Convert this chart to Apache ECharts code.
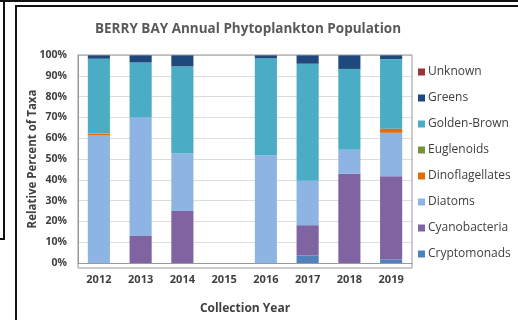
<!DOCTYPE html>
<html>
<head>
<meta charset="utf-8">
<script src="https://cdn.jsdelivr.net/npm/echarts@6/dist/echarts.min.js"></script>
<style>
  html, body { margin: 0; padding: 0; background: #fff; }
  #wrap { position: relative; width: 518px; height: 320px; overflow: hidden; }
  #chart { position: absolute; left: 0; top: 0; width: 518px; height: 320px; }
  .ln { position: absolute; background: #111; }
</style>
</head>
<body>
<div id="wrap">
  <div id="chart"></div>
  <div class="ln" style="left:0;top:0;width:518px;height:2px"></div>
  <div class="ln" style="left:3px;top:0;width:2px;height:239px"></div>
  <div class="ln" style="left:0;top:238px;width:5px;height:2px"></div>
  <div class="ln" style="left:15px;top:5px;width:503px;height:2px"></div>
  <div class="ln" style="left:15px;top:5px;width:2px;height:315px"></div>
</div>
<script>
const years = ['2012', '2013', '2014', '2015', '2016', '2017', '2018', '2019'];
const yTicks = [0, 10, 20, 30, 40, 50, 60, 70, 80, 90, 100];

// percent of taxa per year, bottom of stack first
const cryptomonads    = [0,    0,    0,    0, 0,    3.6,  0,    1.7];
const cyanobacteria   = [0,    13,   25,   0, 0,    14.6, 42.9, 40];
const diatoms         = [61.5, 57,   27.8, 0, 51.7, 21.3, 11.5, 20.9];
const dinoflagellates = [0.7,  0,    0,    0, 0,    0,    0,    2];
const euglenoids      = [0,    0,    0,    0, 0,    0,    0,    0];
const goldenBrown     = [36,   26.4, 41.7, 0, 46.7, 56.3, 38.9, 33.4];
const greens          = [1.8,  3.6,  5.5,  0, 1.6,  4.2,  6.7,  2];
const unknown         = [0,    0,    0,    0, 0,    0,    0,    0];

const chart = echarts.init(document.getElementById('chart'));
const font = '"Open Sans", "Noto Sans", sans-serif';

function bar(name, data, color) {
  return {
    name: name,
    type: 'bar',
    stack: 'taxa',
    barWidth: '53%',
    data: data,
    itemStyle: { color: color },
    emphasis: { disabled: true }
  };
}

const option = {
  animation: false,
  backgroundColor: '#fff',
  textStyle: { fontFamily: font },
  title: {
    text: 'BERRY BAY Annual Phytoplankton Population',
    left: 243,
    textAlign: 'center',
    top: 17,
    textStyle: { fontSize: 13.5, fontWeight: 'bold', color: '#595959', fontFamily: font }
  },
  grid: { left: 78, right: 106, top: 55, bottom: 52 },
  legend: {
    orient: 'vertical',
    left: 413,
    top: 61,
    itemWidth: 7,
    itemHeight: 7,
    itemGap: 14,
    icon: 'rect',
    textStyle: { fontSize: 12, color: '#404040', fontFamily: font, padding: [0, 0, 0, -2] },
    data: ['Unknown', 'Greens', 'Golden-Brown', 'Euglenoids', 'Dinoflagellates', 'Diatoms', 'Cyanobacteria', 'Cryptomonads']
  },
  xAxis: {
    type: 'category',
    data: years,
    name: 'Collection Year',
    nameLocation: 'middle',
    nameGap: 40,
    nameTextStyle: { fontSize: 12, fontWeight: 'bold', color: '#404040' },
    axisLine: { lineStyle: { color: '#999' } },
    axisTick: { show: false },
    axisLabel: { fontSize: 11, fontWeight: 'bold', color: '#404040', margin: 11 }
  },
  yAxis: {
    type: 'value',
    min: yTicks[0],
    max: yTicks[yTicks.length - 1],
    interval: 10,
    name: 'Relative Percent of Taxa',
    nameLocation: 'middle',
    nameGap: 39,
    nameMoveOverlap: false,
    nameTextStyle: { fontSize: 11.5, fontWeight: 'bold', color: '#404040' },
    axisLine: { show: true, lineStyle: { color: '#999' } },
    axisTick: { show: false },
    axisLabel: { fontSize: 10.5, fontWeight: 'bold', color: '#404040', margin: 11, formatter: '{value}%' },
    splitLine: { lineStyle: { color: '#dcdcdc' } }
  },
  graphic: [{
    type: 'rect',
    shape: { x: 78, y: 55, width: 334, height: 213 },
    style: { fill: 'none', stroke: '#999', lineWidth: 1 },
    silent: true,
    z: 10
  }],
  series: [
    bar('Cryptomonads', cryptomonads, '#4F81BD'),
    bar('Cyanobacteria', cyanobacteria, '#8064A2'),
    bar('Diatoms', diatoms, '#8EB4E3'),
    bar('Dinoflagellates', dinoflagellates, '#E46C0A'),
    bar('Euglenoids', euglenoids, '#77933C'),
    bar('Golden-Brown', goldenBrown, '#4BACC6'),
    bar('Greens', greens, '#1F497D'),
    bar('Unknown', unknown, '#953735')
  ]
};

chart.setOption(option);
</script>
</body>
</html>
